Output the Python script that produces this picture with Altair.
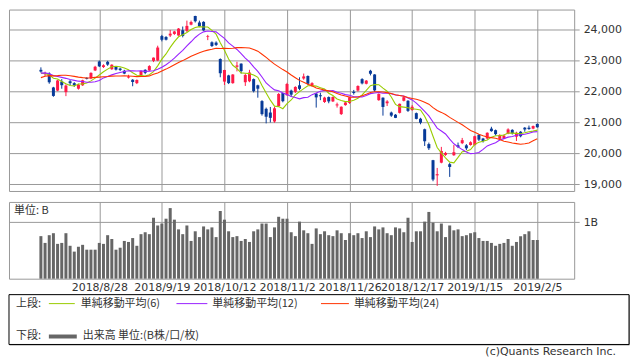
import json
import altair as alt
import pandas as pd

# ---------------- data ----------------
dates = [
    "2018/8/8", "2018/8/9", "2018/8/10", "2018/8/13", "2018/8/14", "2018/8/15", "2018/8/16", "2018/8/17",
    "2018/8/20", "2018/8/21", "2018/8/22", "2018/8/23", "2018/8/24", "2018/8/27", "2018/8/28", "2018/8/29",
    "2018/8/30", "2018/8/31",
    "2018/9/3", "2018/9/4", "2018/9/5", "2018/9/6", "2018/9/7", "2018/9/10", "2018/9/11", "2018/9/12",
    "2018/9/13", "2018/9/14", "2018/9/18", "2018/9/19", "2018/9/20", "2018/9/21", "2018/9/25", "2018/9/26",
    "2018/9/27", "2018/9/28",
    "2018/10/1", "2018/10/2", "2018/10/3", "2018/10/4", "2018/10/5", "2018/10/9", "2018/10/10", "2018/10/11",
    "2018/10/12", "2018/10/15", "2018/10/16", "2018/10/17", "2018/10/18", "2018/10/19", "2018/10/22",
    "2018/10/23", "2018/10/24", "2018/10/25", "2018/10/26", "2018/10/29", "2018/10/30", "2018/10/31",
    "2018/11/1", "2018/11/2", "2018/11/5", "2018/11/6", "2018/11/7", "2018/11/8", "2018/11/9", "2018/11/12",
    "2018/11/13", "2018/11/14", "2018/11/15", "2018/11/16", "2018/11/19", "2018/11/20", "2018/11/21",
    "2018/11/22", "2018/11/26", "2018/11/27", "2018/11/28", "2018/11/29", "2018/11/30",
    "2018/12/3", "2018/12/4", "2018/12/5", "2018/12/6", "2018/12/7", "2018/12/10", "2018/12/11", "2018/12/12",
    "2018/12/13", "2018/12/14", "2018/12/17", "2018/12/18", "2018/12/19", "2018/12/20", "2018/12/21",
    "2018/12/25", "2018/12/26", "2018/12/27", "2018/12/28",
    "2019/1/4", "2019/1/7", "2019/1/8", "2019/1/9", "2019/1/10", "2019/1/11", "2019/1/15", "2019/1/16",
    "2019/1/17", "2019/1/18", "2019/1/21", "2019/1/22", "2019/1/23", "2019/1/24", "2019/1/25", "2019/1/28",
    "2019/1/29", "2019/1/30", "2019/1/31",
    "2019/2/1", "2019/2/4", "2019/2/5",
]

opens = [
    22700, 22560, 22580, 22130, 22030, 22320, 21980, 22330, 22270, 22090,
    22200, 22440, 22420, 22680, 22970, 22790, 22960, 22720, 22800, 22740,
    22670, 22450, 22380, 22270, 22520, 22700, 22680, 22990, 23000, 23790,
    23760, 23810, 23860, 23810, 23980, 23960, 24160, 24440, 24230, 24250,
    23760, 23590, 23580, 23050, 22320, 22520, 22270, 22800, 22900, 22300,
    22330, 22400, 22200, 21690, 21440, 21320, 21030, 21530, 21950, 21880,
    22030, 21990, 22200, 22420, 22500, 22200, 21930, 21880, 21660, 21820,
    21680, 21550, 21270, 21560, 21630, 21990, 22030, 22400, 22250, 22670,
    22550, 21720, 21800, 21620, 21320, 21250, 21310, 21700, 21700, 21400,
    21300, 21120, 20780, 20300, 19780, 19290, 19700, 19950, 19650, 19940,
    20260, 20330, 20260, 20270, 20270, 20600, 20480, 20480, 20800, 20750,
    20470, 20480, 20640, 20760, 20540, 20700, 20830, 20830, 20800, 20950,
]
highs = [
    22780, 22640, 22620, 22150, 22380, 22400, 22230, 22370, 22300, 22250,
    22380, 22460, 22620, 22830, 23000, 22880, 22990, 22880, 22820, 22770,
    22700, 22540, 22400, 22390, 22680, 22720, 22850, 23100, 23480, 23830,
    23790, 23990, 23960, 24050, 24100, 24290, 24290, 24448, 24290, 24270,
    23830, 23620, 23620, 23070, 22700, 22540, 22560, 22960, 22910, 22580,
    22700, 22420, 22220, 21720, 21480, 21500, 21510, 21950, 21960, 22280,
    22060, 22170, 22460, 22580, 22520, 22300, 21950, 21960, 21830, 21840,
    21840, 21640, 21520, 21660, 21830, 22050, 22200, 22430, 22370, 22700,
    22560, 21940, 21810, 21720, 21350, 21270, 21610, 21860, 21720, 21560,
    21320, 21150, 20800, 20350, 19790, 19530, 20210, 20050, 19690, 20270,
    20350, 20500, 20300, 20390, 20570, 20620, 20500, 20680, 20860, 20770,
    20620, 20610, 20810, 20780, 20700, 20720, 20850, 20900, 20900, 20970,
]
lows = [
    22610, 22500, 22250, 21830, 22010, 22090, 21850, 22200, 22150, 22060,
    22180, 22390, 22400, 22660, 22790, 22760, 22830, 22700, 22680, 22660,
    22560, 22420, 22170, 22240, 22500, 22560, 22660, 22950, 22980, 23620,
    23650, 23760, 23830, 23800, 23750, 23920, 24140, 24230, 24080, 23960,
    23660, 23440, 23470, 22460, 22210, 22240, 22250, 22650, 22580, 22180,
    22300, 21970, 21800, 21220, 20970, 21000, 20990, 21500, 21650, 21860,
    21830, 21950, 22040, 22380, 22220, 22150, 21480, 21720, 21630, 21620,
    21660, 21480, 21240, 21540, 21600, 21900, 22000, 22230, 22230, 22520,
    21990, 21700, 21220, 21530, 21180, 21140, 21290, 21680, 21340, 21380,
    21100, 20940, 20240, 20110, 19100, 18950, 19680, 19920, 19240, 19920,
    20170, 20300, 20110, 20250, 20250, 20400, 20350, 20460, 20700, 20580,
    20440, 20460, 20620, 20610, 20400, 20520, 20700, 20760, 20780, 20830,
]
closes = [
    22644, 22598, 22298, 21857, 22356, 22204, 22192, 22270, 22199, 22219,
    22362, 22410, 22601, 22799, 22813, 22848, 22869, 22865, 22707, 22697,
    22580, 22487, 22307, 22373, 22664, 22604, 22821, 23094, 23420, 23672,
    23674, 23869, 23940, 24033, 23796, 24120, 24245, 24270, 24110, 23975,
    23783, 23469, 23506, 22590, 22694, 22271, 22549, 22841, 22658, 22532,
    22614, 22010, 22091, 21268, 21184, 21149, 21457, 21920, 21687, 22243,
    21898, 22147, 22085, 22487, 22250, 22269, 21810, 21846, 21803, 21680,
    21821, 21583, 21507, 21646, 21812, 21952, 22177, 22262, 22351, 22574,
    22036, 21919, 21501, 21678, 21220, 21148, 21602, 21816, 21375, 21506,
    21115, 20990, 20392, 20166, 19155, 19327, 20078, 20015, 19562, 20038,
    20204, 20427, 20164, 20360, 20555, 20443, 20402, 20666, 20719, 20622,
    20593, 20574, 20774, 20649, 20664, 20556, 20773, 20788, 20883, 20844,
]
# closes of the 23 sessions before the first candle (feed the moving averages)
prior_closes = [
    21547, 21788, 22052, 22196, 21932, 22187, 22597, 22697, 22794, 22764,
    22698, 22397, 22510, 22614, 22586, 22712, 22544, 22553, 22746, 22512,
    22525, 22507, 22662,
]
# volume, in B
volumes = [
    0.754, 0.634, 0.771, 0.806, 0.617, 0.634, 0.806, 0.583, 0.480, 0.566,
    0.600, 0.514, 0.514, 0.514, 0.634, 0.617, 0.771, 0.703, 0.514, 0.549,
    0.669, 0.651, 0.720, 0.583, 0.789, 0.823, 0.789, 1.080, 0.943, 0.977,
    1.063, 1.251, 1.046, 0.874, 0.789, 0.943, 0.669, 0.840, 0.737, 0.926,
    0.874, 0.909, 0.737, 1.200, 1.046, 0.840, 0.737, 0.754, 0.669, 0.703,
    0.651, 0.840, 0.874, 0.977, 0.977, 0.737, 0.909, 1.097, 1.063, 1.063,
    0.823, 0.754, 1.011, 0.857, 0.806, 0.617, 0.891, 0.789, 0.840, 0.771,
    0.754, 0.857, 0.806, 0.686, 0.806, 0.771, 0.806, 0.720, 0.840, 0.737,
    0.926, 0.874, 0.909, 0.806, 0.771, 0.909, 0.891, 0.823, 1.080, 0.651,
    0.840, 0.840, 1.011, 1.183, 0.994, 0.840, 0.977, 0.737, 0.943, 0.857,
    0.874, 0.754, 0.771, 0.806, 0.823, 0.720, 0.669, 0.669, 0.634, 0.583,
    0.617, 0.634, 0.703, 0.583, 0.651, 0.754, 0.789, 0.840, 0.686, 0.686,
]

tick_dates = ["2018/8/28", "2018/9/19", "2018/10/12", "2018/11/2",
              "2018/11/26", "2018/12/17", "2019/1/15", "2019/2/5"]
price_ticks = [19000, 20000, 21000, 22000, 23000, 24000]
volume_ticks = [1]
ma_windows = [6, 12, 24]
ma_names = ["単純移動平均(6)", "単純移動平均(12)", "単純移動平均(24)"]
legend_upper = "上段:"
legend_lower = "下段:"
volume_name = "出来高 単位:(B株/口/枚)"
unit_label = "単位: B"
copyright_text = "(c)Quants Research Inc."

# ---------------- style ----------------
UP = "#ff1a47"
DOWN = "#073a98"
GRID = "#999999"
VOLC = "#666666"
MA_COLORS = ["#99cc00", "#9922ff", "#ff3300"]
TXT = "#333333"
NUMFONT = "DejaVu Sans"
CJK = "Noto Sans CJK JP"

W = 567
H_MAIN = 182
H_VOL = 77
X_DOMAIN = [-7.647, 127.84]
Y_DOMAIN = [18785, 24648]
V_DOMAIN = [0, 1.36]

df = pd.DataFrame({"i": list(range(len(dates))), "date": dates, "open": opens,
                   "high": highs, "low": lows, "close": closes, "volume": volumes})
ma_df = pd.DataFrame({"i": list(range(-len(prior_closes), len(closes))),
                      "close": prior_closes + closes})
tick_idx = [dates.index(d) for d in tick_dates]
date_expr = json.dumps(dates) + "[datum.value]"

xscale = alt.Scale(domain=X_DOMAIN, nice=False, zero=False, padding=0)
yscale = alt.Scale(domain=Y_DOMAIN, nice=False, zero=False, padding=0)

x_main = alt.X("i:Q", scale=xscale, title=None,
               axis=alt.Axis(values=tick_idx, grid=True, gridColor=GRID, labels=False,
                             ticks=False, domain=False, labelPadding=0, tickSize=0))
y_axis = alt.Axis(orient="right", values=price_ticks, format=",d", grid=True, gridColor=GRID,
                  tickColor=GRID, tickSize=5, labelPadding=4, domain=False, labelOverlap=False,
                  labelFlush=False, labelFont=NUMFONT, labelFontSize=11, labelColor=TXT)
candle_color = alt.condition("datum.close >= datum.open", alt.value(UP), alt.value(DOWN))

base = alt.Chart(df)
wicks = base.mark_rule(strokeWidth=1).encode(
    x=x_main,
    y=alt.Y("low:Q", scale=yscale, axis=y_axis, title=None),
    y2="high:Q",
    color=candle_color,
)
bodies = base.mark_bar(size=3).encode(
    x=x_main,
    y=alt.Y("open:Q", scale=yscale, axis=y_axis, title=None),
    y2="close:Q",
    color=candle_color,
)
keys = [f"ma{w}" for w in ma_windows]
ma = alt.Chart(ma_df)
for k, w in zip(keys, ma_windows):
    ma = ma.transform_window(**{k: "mean(close)"}, frame=[-(w - 1), 0], sort=[alt.SortField("i")])
ma_lines = ma.transform_filter("datum.i >= 0").transform_fold(keys, as_=["key", "val"]).mark_line(
    strokeWidth=1.1, interpolate="linear"
).encode(
    x=x_main,
    y=alt.Y("val:Q", scale=yscale, axis=y_axis, title=None),
    color=alt.Color("key:N", scale=alt.Scale(domain=keys, range=MA_COLORS), legend=None),
    order=alt.Order("i:Q"),
)
main = alt.layer(wicks, bodies, ma_lines).properties(width=W, height=H_MAIN)

# ---------------- volume panel ----------------
x_vol = alt.X("i:Q", scale=xscale, title=None,
              axis=alt.Axis(values=tick_idx, grid=True, gridColor=GRID, labelExpr=date_expr,
                            ticks=False, domain=False, labelPadding=3, labelOverlap=False,
                            labelFlush=False, labelFont=NUMFONT, labelFontSize=11,
                            labelColor=TXT))
v_axis = alt.Axis(orient="right", values=volume_ticks, labelExpr="datum.value + 'B'",
                  grid=True, gridColor=GRID, tickColor=GRID, tickSize=5,
                  labelPadding=4, domain=False, labelOverlap=False, labelFont=NUMFONT,
                  labelFontSize=11, labelColor=TXT)
vol_bars = alt.Chart(df).mark_bar(size=3, color=VOLC).encode(
    x=x_vol,
    y=alt.Y("volume:Q", scale=alt.Scale(domain=V_DOMAIN, nice=False, zero=True, padding=0),
            title=None, axis=v_axis),
)
unit_text = alt.Chart(pd.DataFrame({"t": [unit_label]})).mark_text(
    align="left", baseline="middle", font=CJK, fontSize=11, color=TXT
).encode(x=alt.value(5), y=alt.value(9), text="t:N")
vol = alt.layer(vol_bars, unit_text).properties(width=W, height=H_VOL)

# ---------------- legend box ----------------
LW = 622
LH = 50
one = pd.DataFrame({"a": [0]})


def seg(x1, x2, y, color, width):
    return alt.Chart(one).mark_rule(color=color, strokeWidth=width).encode(
        x=alt.value(x1), x2=alt.value(x2), y=alt.value(y))


def label(txt, x, y, align="left", font=CJK):
    return alt.Chart(pd.DataFrame({"t": [txt]})).mark_text(
        align=align, baseline="middle", font=font, fontSize=11, color=TXT
    ).encode(x=alt.value(x), y=alt.value(y), text="t:N")


row1, row2 = 9, 42
line_x = [(40, 66), (168, 199), (313, 341)]
text_x = [72, 204, 346]
legend_layers = [
    alt.Chart(one).mark_rect(fill="white", stroke="black", strokeWidth=1).encode(
        x=alt.value(0), x2=alt.value(LW), y=alt.value(0), y2=alt.value(LH)),
    label(legend_upper, 7, row1),
]
for (a, b), tx, name, colr in zip(line_x, text_x, ma_names, MA_COLORS):
    legend_layers.append(seg(a, b, row1, colr, 1))
    legend_layers.append(label(name, tx, row1))
legend_layers += [
    label(legend_lower, 7, row2),
    seg(40, 68, row2, VOLC, 4),
    label(volume_name, 74, row2),
    label(copyright_text, 609, LH + 8, align="right", font=NUMFONT),
]
legend = alt.layer(*legend_layers).properties(width=LW, height=LH)

upper = alt.vconcat(main, vol, spacing=9)
chart = alt.vconcat(upper, legend, spacing=0, padding=0).configure_view(
    stroke=GRID, strokeWidth=1
).configure_axis(title=None)

chart.save("out.html", embed_options={"renderer": "svg", "actions": False})
